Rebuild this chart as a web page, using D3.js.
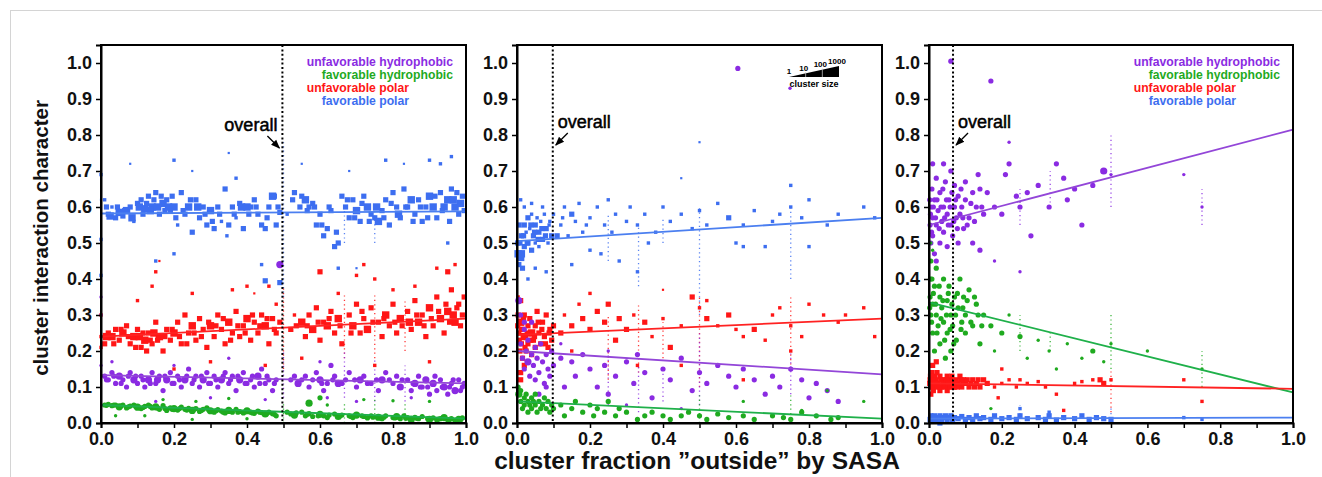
<!DOCTYPE html>
<html><head><meta charset="utf-8">
<script src="https://cdn.jsdelivr.net/npm/d3@7"></script>
<style>body{margin:0;background:#fff}svg{display:block;font-family:"Liberation Sans",Arial,Helvetica,sans-serif}</style>
</head><body>
<svg id="c" width="1322" height="477"></svg>
<script>
// ---------------- DATA ----------------
const categories = ["unfavorable hydrophobic","favorable hydrophobic","unfavorable polar","favorable polar"];
const yTicks = [0,0.1,0.2,0.3,0.4,0.5,0.6,0.7,0.8,0.9,1.0];
const yTickLabels = ["0.0","0.1","0.2","0.3","0.4","0.5","0.6","0.7","0.8","0.9","1.0"];
const xTicks = [0,0.1,0.2,0.3,0.4,0.5,0.6,0.7,0.8,0.9,1.0];
const xTickLabels = ["0.0","","0.2","","0.4","","0.6","","0.8","","1.0"];
const yTitle = "cluster interaction character";
const xTitle = "cluster fraction \u201doutside\u201d by SASA";
const overallLabel = "overall";
const overallFraction = [0.497, 0.098, 0.066];
const sizeLegendLabels = ["1","10","100","1000"];
const sizeLegendTitle = "cluster size";

// points: [fraction outside, interaction character, log10 cluster size class]
// panel 1
const p1FavPolar = [[0.01,0.62,2],[0.02,0.58,3],[0.03,0.6,2],[0.04,0.57,3],[0.05,0.585,4],[0.06,0.575,3],[0.07,0.59,4],[0.08,0.6,3],[0.09,0.56,2],[0.1,0.61,3],[0.11,0.62,3],[0.12,0.595,4],[0.13,0.63,3],[0.14,0.6,4],[0.15,0.64,3],[0.16,0.58,3],[0.17,0.61,4],[0.18,0.62,3],[0.19,0.59,3],[0.2,0.6,4],[0.21,0.55,2],[0.22,0.64,3],[0.23,0.58,3],[0.24,0.6,4],[0.25,0.53,3],[0.26,0.62,3],[0.27,0.57,3],[0.28,0.6,3],[0.29,0.55,3],[0.3,0.59,4],[0.31,0.54,3],[0.32,0.6,3],[0.33,0.56,2],[0.34,0.65,3],[0.35,0.55,3],[0.36,0.6,3],[0.37,0.57,2],[0.38,0.61,3],[0.39,0.54,3],[0.4,0.6,4],[0.41,0.6,3],[0.42,0.62,3],[0.43,0.58,3],[0.44,0.55,3],[0.45,0.54,3],[0.46,0.6,3],[0.47,0.63,4],[0.48,0.55,3],[0.49,0.585,3],[0.51,0.58,2],[0.53,0.64,3],[0.55,0.63,3],[0.56,0.62,4],[0.57,0.6,3],[0.58,0.61,3],[0.59,0.55,3],[0.6,0.58,3],[0.61,0.52,3],[0.62,0.54,3],[0.63,0.59,3],[0.64,0.49,3],[0.65,0.5,3],[0.66,0.63,3],[0.67,0.6,3],[0.68,0.57,3],[0.69,0.62,3],[0.7,0.59,4],[0.71,0.56,3],[0.72,0.63,3],[0.73,0.6,4],[0.74,0.58,3],[0.75,0.57,3],[0.76,0.56,4],[0.77,0.59,3],[0.78,0.62,3],[0.79,0.55,3],[0.8,0.64,3],[0.81,0.6,3],[0.82,0.57,3],[0.83,0.65,3],[0.84,0.6,3],[0.85,0.62,4],[0.86,0.58,3],[0.87,0.62,3],[0.88,0.56,3],[0.89,0.6,3],[0.9,0.63,4],[0.91,0.6,4],[0.92,0.57,3],[0.93,0.64,3],[0.94,0.6,4],[0.95,0.62,4],[0.96,0.65,3],[0.97,0.6,4],[0.98,0.58,3],[0.99,0.63,3],[0.08,0.72,1],[0.2,0.73,2],[0.25,0.7,1],[0.35,0.75,1],[0.37,0.68,2],[0.55,0.72,1],[0.68,0.7,1],[0.78,0.73,2],[0.83,0.72,1],[0.9,0.73,2],[0.93,0.72,2],[0.96,0.74,2],[0.15,0.45,2],[0.2,0.47,2],[0.44,0.44,2],[0.45,0.395,3],[0.49,0.39,3],[0.65,0.43,2],[0.7,0.43,1],[0.95,0.5,2],[0.0,0.69,2],[0.0,0.51,2],[0.0,0.41,2],[0.0,0.62,1],
 [0.015,0.6,3],[0.025,0.575,4],[0.045,0.6,3],[0.065,0.59,3],[0.085,0.57,4],[0.105,0.6,4],[0.115,0.58,3],[0.125,0.61,3],[0.135,0.59,4],[0.145,0.62,3],[0.155,0.6,4],[0.165,0.63,3],[0.175,0.59,3],[0.185,0.6,4],[0.195,0.63,3],[0.205,0.57,3],[0.225,0.59,3],[0.245,0.62,3],[0.265,0.6,4],[0.285,0.58,3],[0.305,0.56,3],[0.325,0.58,3],[0.345,0.52,2],[0.365,0.58,3],[0.385,0.6,4],[0.405,0.58,3],[0.425,0.6,3],[0.455,0.57,3],[0.475,0.63,3],[0.485,0.6,3],[0.525,0.62,3],[0.545,0.6,3],[0.565,0.59,3],[0.585,0.6,3],[0.605,0.55,3],[0.625,0.6,3],[0.645,0.53,3],[0.675,0.62,3],[0.695,0.57,3],[0.715,0.61,3],[0.735,0.56,3],[0.755,0.6,4],[0.775,0.57,3],[0.795,0.61,3],[0.815,0.58,4],[0.835,0.6,3],[0.855,0.56,3],[0.875,0.6,3],[0.895,0.57,3],[0.915,0.63,3],[0.935,0.59,3],[0.955,0.56,3],[0.965,0.62,4],[0.975,0.64,3],[0.985,0.61,4],[0.995,0.59,3]];
const p1UnfavPolar = [[0.01,0.22,3],[0.02,0.25,3],[0.03,0.24,4],[0.04,0.26,3],[0.05,0.23,3],[0.06,0.25,4],[0.07,0.27,3],[0.08,0.22,3],[0.09,0.24,4],[0.1,0.26,3],[0.11,0.21,3],[0.12,0.23,4],[0.13,0.25,3],[0.14,0.22,3],[0.15,0.28,3],[0.16,0.24,4],[0.17,0.2,3],[0.18,0.26,3],[0.19,0.23,3],[0.2,0.25,4],[0.21,0.28,3],[0.22,0.22,3],[0.23,0.3,3],[0.24,0.25,3],[0.25,0.27,4],[0.26,0.23,3],[0.27,0.29,3],[0.28,0.26,3],[0.29,0.21,3],[0.3,0.27,4],[0.31,0.24,3],[0.32,0.3,3],[0.33,0.26,3],[0.34,0.22,3],[0.35,0.28,4],[0.36,0.25,3],[0.37,0.31,3],[0.38,0.24,3],[0.39,0.27,3],[0.4,0.29,4],[0.41,0.23,3],[0.42,0.28,3],[0.43,0.25,3],[0.44,0.3,3],[0.45,0.27,4],[0.46,0.22,3],[0.47,0.29,3],[0.48,0.25,3],[0.49,0.28,3],[0.52,0.26,3],[0.53,0.3,2],[0.55,0.28,4],[0.56,0.24,3],[0.57,0.3,3],[0.58,0.26,4],[0.59,0.32,3],[0.6,0.23,3],[0.61,0.28,3],[0.62,0.27,4],[0.63,0.31,3],[0.64,0.25,3],[0.65,0.29,4],[0.66,0.22,3],[0.68,0.3,3],[0.69,0.27,4],[0.7,0.33,3],[0.71,0.25,3],[0.72,0.29,3],[0.73,0.26,4],[0.74,0.32,3],[0.76,0.28,3],[0.77,0.24,3],[0.78,0.3,4],[0.79,0.27,3],[0.8,0.33,3],[0.81,0.25,3],[0.82,0.29,4],[0.84,0.31,3],[0.85,0.26,3],[0.86,0.34,3],[0.87,0.28,4],[0.88,0.3,3],[0.89,0.24,3],[0.9,0.32,4],[0.91,0.27,3],[0.92,0.35,3],[0.93,0.29,4],[0.94,0.25,3],[0.95,0.31,4],[0.96,0.37,3],[0.97,0.28,4],[0.98,0.33,3],[0.99,0.3,3],[0.1,0.34,2],[0.14,0.38,2],[0.15,0.42,2],[0.16,0.45,1],[0.25,0.36,2],[0.36,0.37,2],[0.4,0.38,2],[0.42,0.36,1],[0.46,0.38,2],[0.48,0.33,2],[0.6,0.42,3],[0.65,0.36,2],[0.7,0.41,2],[0.72,0.44,2],[0.75,0.4,2],[0.8,0.37,2],[0.86,0.38,2],[0.92,0.43,2],[0.95,0.42,3],[0.97,0.44,2],[0.2,0.15,2],[0.3,0.17,2],[0.45,0.16,2],[0.55,0.18,2],[0.75,0.16,2],[0.9,0.17,2],[0.0,0.3,2],[0.0,0.21,2],[0.0,0.24,2],
 [0.015,0.24,4],[0.035,0.22,3],[0.055,0.26,3],[0.075,0.24,3],[0.095,0.21,3],[0.105,0.24,4],[0.115,0.25,3],[0.125,0.2,3],[0.135,0.23,3],[0.145,0.25,4],[0.155,0.23,3],[0.175,0.24,3],[0.195,0.26,3],[0.215,0.24,3],[0.235,0.22,3],[0.255,0.25,3],[0.275,0.24,3],[0.295,0.28,3],[0.315,0.27,3],[0.335,0.29,3],[0.355,0.23,3],[0.375,0.27,3],[0.395,0.25,3],[0.415,0.3,3],[0.435,0.27,3],[0.455,0.29,3],[0.475,0.26,3],[0.535,0.27,3],[0.565,0.27,3],[0.595,0.28,3],[0.625,0.29,3],[0.655,0.27,3],[0.685,0.25,3],[0.715,0.31,3],[0.745,0.28,3],[0.775,0.29,3],[0.805,0.28,3],[0.825,0.27,3],[0.845,0.28,4],[0.865,0.3,3],[0.885,0.27,3],[0.905,0.29,3],[0.925,0.31,3],[0.945,0.33,3],[0.955,0.28,3],[0.965,0.3,4],[0.975,0.32,3],[0.985,0.27,3],[0.995,0.35,3]];
const p1UnfavHydrophobic = [[0.01,0.13,3],[0.02,0.12,3],[0.03,0.14,3],[0.04,0.11,3],[0.05,0.13,4],[0.06,0.12,3],[0.07,0.1,3],[0.08,0.14,3],[0.09,0.12,4],[0.1,0.11,3],[0.11,0.13,3],[0.12,0.1,3],[0.13,0.12,4],[0.14,0.14,3],[0.15,0.11,3],[0.16,0.13,3],[0.17,0.09,3],[0.18,0.12,4],[0.19,0.14,3],[0.2,0.11,3],[0.21,0.13,3],[0.22,0.1,3],[0.23,0.12,4],[0.24,0.15,3],[0.25,0.11,3],[0.26,0.13,3],[0.27,0.1,3],[0.28,0.12,4],[0.29,0.14,3],[0.3,0.11,3],[0.31,0.13,3],[0.32,0.1,3],[0.33,0.12,4],[0.34,0.14,3],[0.35,0.11,3],[0.36,0.13,3],[0.37,0.09,3],[0.38,0.12,4],[0.39,0.14,3],[0.4,0.11,3],[0.41,0.12,3],[0.42,0.1,3],[0.43,0.13,4],[0.44,0.15,3],[0.45,0.11,3],[0.46,0.12,3],[0.47,0.09,3],[0.48,0.12,3],[0.52,0.12,3],[0.54,0.11,4],[0.56,0.13,3],[0.57,0.1,3],[0.59,0.14,3],[0.6,0.12,4],[0.61,0.09,3],[0.62,0.11,3],[0.63,0.16,3],[0.64,0.13,3],[0.65,0.11,4],[0.67,0.12,3],[0.68,0.14,3],[0.7,0.1,3],[0.71,0.12,4],[0.72,0.13,3],[0.74,0.11,3],[0.76,0.09,3],[0.77,0.12,4],[0.78,0.14,3],[0.8,0.11,3],[0.81,0.13,3],[0.82,0.1,4],[0.84,0.12,3],[0.85,0.09,3],[0.86,0.11,4],[0.87,0.13,3],[0.88,0.1,3],[0.89,0.12,4],[0.9,0.08,3],[0.91,0.11,4],[0.92,0.09,3],[0.93,0.12,3],[0.94,0.1,4],[0.95,0.08,3],[0.96,0.11,3],[0.97,0.09,4],[0.98,0.12,3],[0.99,0.1,3],[0.49,0.44,4],[0.03,0.17,2],[0.2,0.16,2],[0.35,0.18,2],[0.6,0.17,2],[0.62,0.07,2],[0.7,0.06,2],[0.85,0.07,2],[0.0,0.35,2],[0.0,0.3,2],[0.0,0.16,2],[0.15,0.06,2],[0.3,0.07,2],[0.45,0.065,2],
 [0.015,0.12,3],[0.035,0.13,3],[0.055,0.11,3],[0.075,0.13,3],[0.095,0.13,3],[0.115,0.12,3],[0.135,0.11,3],[0.155,0.12,4],[0.175,0.13,3],[0.195,0.11,3],[0.215,0.12,3],[0.235,0.13,3],[0.255,0.12,3],[0.275,0.13,3],[0.295,0.11,3],[0.315,0.12,3],[0.335,0.13,3],[0.355,0.12,3],[0.375,0.13,3],[0.395,0.11,3],[0.415,0.13,3],[0.435,0.11,3],[0.455,0.13,3],[0.475,0.11,3],[0.53,0.13,3],[0.55,0.12,3],[0.58,0.12,3],[0.605,0.11,3],[0.635,0.12,3],[0.66,0.11,3],[0.695,0.12,3],[0.73,0.11,3],[0.755,0.12,3],[0.79,0.12,3],[0.825,0.12,3],[0.855,0.11,3],[0.875,0.1,3],[0.895,0.1,3],[0.915,0.13,3],[0.935,0.1,3],[0.955,0.1,3],[0.965,0.12,3],[0.985,0.09,3],[0.995,0.11,3]];
const p1FavHydrophobic = [[0.01,0.05,3],[0.02,0.052,3],[0.03,0.048,3],[0.04,0.05,3],[0.05,0.045,4],[0.06,0.05,3],[0.07,0.042,3],[0.08,0.047,3],[0.09,0.05,3],[0.1,0.044,4],[0.11,0.04,3],[0.12,0.046,3],[0.13,0.05,3],[0.14,0.042,3],[0.15,0.045,4],[0.16,0.038,3],[0.17,0.048,3],[0.18,0.035,3],[0.19,0.042,3],[0.2,0.04,4],[0.21,0.036,3],[0.22,0.044,3],[0.23,0.038,3],[0.24,0.041,3],[0.25,0.035,4],[0.26,0.04,3],[0.27,0.032,3],[0.28,0.038,3],[0.29,0.042,3],[0.3,0.034,4],[0.31,0.03,3],[0.32,0.037,3],[0.33,0.033,3],[0.34,0.028,3],[0.35,0.035,4],[0.36,0.03,3],[0.37,0.038,3],[0.38,0.032,3],[0.39,0.028,3],[0.4,0.034,4],[0.41,0.03,3],[0.42,0.027,3],[0.43,0.033,3],[0.44,0.029,3],[0.45,0.025,4],[0.46,0.03,3],[0.47,0.026,3],[0.48,0.02,3],[0.51,0.03,3],[0.52,0.025,3],[0.53,0.022,4],[0.55,0.03,3],[0.56,0.02,3],[0.57,0.026,3],[0.58,0.018,3],[0.6,0.024,4],[0.61,0.02,3],[0.62,0.015,3],[0.64,0.025,3],[0.65,0.018,4],[0.66,0.022,3],[0.68,0.02,3],[0.69,0.015,3],[0.7,0.022,4],[0.72,0.018,3],[0.73,0.014,3],[0.74,0.02,3],[0.76,0.016,4],[0.77,0.012,3],[0.78,0.02,3],[0.8,0.015,3],[0.81,0.018,4],[0.82,0.012,3],[0.83,0.02,3],[0.84,0.015,3],[0.85,0.01,4],[0.86,0.016,3],[0.87,0.012,3],[0.88,0.018,3],[0.9,0.01,4],[0.91,0.014,3],[0.92,0.008,3],[0.93,0.012,3],[0.94,0.015,4],[0.95,0.008,3],[0.96,0.012,3],[0.97,0.006,3],[0.98,0.01,4],[0.99,0.014,3],[0.57,0.055,4],[0.6,0.07,3],[0.17,0.065,2],[0.26,0.06,2],[0.35,0.068,2],[0.62,0.05,2],[0.72,0.065,2],[0.8,0.062,2],[0.9,0.06,2],[0.12,0.02,2],[0.25,0.01,2],[0.4,0.012,2],[0.04,0.02,2],
 [0.015,0.049,3],[0.035,0.05,3],[0.055,0.047,3],[0.075,0.045,3],[0.095,0.046,3],[0.115,0.043,3],[0.135,0.046,3],[0.155,0.042,3],[0.175,0.04,3],[0.195,0.038,3],[0.215,0.04,3],[0.235,0.036,3],[0.255,0.038,3],[0.275,0.035,3],[0.295,0.036,3],[0.315,0.034,3],[0.335,0.03,3],[0.355,0.032,3],[0.375,0.03,3],[0.395,0.031,3],[0.415,0.028,3],[0.435,0.03,3],[0.455,0.027,3],[0.475,0.024,3],[0.535,0.028,3],[0.565,0.024,3],[0.595,0.02,3],[0.625,0.022,3],[0.655,0.02,3],[0.685,0.018,3],[0.715,0.02,3],[0.745,0.016,3],[0.775,0.016,3],[0.805,0.014,3],[0.835,0.013,3],[0.865,0.013,3],[0.895,0.012,3],[0.925,0.011,3],[0.955,0.01,3],[0.985,0.008,3]];
// panel 2
const p2FavPolar = [[0.003,0.47,4],[0.005,0.44,3],[0.008,0.5,3],[0.01,0.46,4],[0.012,0.52,3],[0.015,0.43,3],[0.02,0.55,3],[0.02,0.49,3],[0.025,0.53,2],[0.03,0.57,3],[0.03,0.5,3],[0.035,0.54,2],[0.04,0.48,3],[0.04,0.58,2],[0.045,0.52,3],[0.05,0.55,3],[0.05,0.5,2],[0.055,0.57,2],[0.06,0.53,3],[0.06,0.49,2],[0.065,0.56,2],[0.07,0.51,3],[0.075,0.58,2],[0.08,0.54,3],[0.085,0.5,2],[0.09,0.56,2],[0.095,0.52,3],[0.1,0.58,2],[0.01,0.62,2],[0.02,0.6,2],[0.04,0.61,2],[0.07,0.6,2],[0.03,0.4,2],[0.05,0.43,2],[0.08,0.42,2],[0.12,0.55,2],[0.13,0.6,2],[0.14,0.52,2],[0.15,0.58,3],[0.16,0.56,2],[0.17,0.61,2],[0.18,0.53,2],[0.2,0.57,2],[0.22,0.6,2],[0.23,0.47,2],[0.24,0.55,2],[0.25,0.62,2],[0.27,0.58,2],[0.28,0.45,2],[0.3,0.56,2],[0.31,0.6,2],[0.33,0.55,2],[0.35,0.58,2],[0.36,0.5,2],[0.38,0.53,2],[0.4,0.6,2],[0.42,0.56,2],[0.45,0.58,2],[0.48,0.54,2],[0.5,0.59,2],[0.52,0.55,2],[0.55,0.61,2],[0.58,0.57,3],[0.6,0.5,2],[0.62,0.55,2],[0.65,0.59,2],[0.7,0.56,2],[0.72,0.58,2],[0.75,0.6,2],[0.78,0.57,2],[0.8,0.62,2],[0.85,0.55,2],[0.88,0.58,2],[0.95,0.6,2],[0.98,0.57,2],[0.15,0.44,2],[0.2,0.48,2],[0.33,0.42,2],[0.45,0.68,1],[0.5,0.78,1],[0.62,0.49,2],[0.68,0.49,2],[0.75,0.66,2],[0.8,0.49,2],
 [0.002,0.5,3],[0.006,0.55,3],[0.012,0.47,4],[0.018,0.52,3],[0.028,0.5,3],[0.038,0.55,3],[0.048,0.53,3],[0.058,0.51,3],[0.068,0.54,3],[0.078,0.52,3],[0.088,0.55,2],[0.11,0.52,3],[0.125,0.57,2],[0.19,0.55,2],[0.26,0.53,2]];
const p2UnfavPolar = [[0.003,0.3,3],[0.005,0.25,3],[0.008,0.2,3],[0.01,0.34,3],[0.01,0.28,4],[0.012,0.22,3],[0.015,0.18,3],[0.015,0.26,3],[0.02,0.3,3],[0.02,0.24,4],[0.025,0.2,3],[0.03,0.27,3],[0.03,0.22,3],[0.035,0.29,3],[0.04,0.25,4],[0.04,0.19,3],[0.045,0.23,3],[0.05,0.27,3],[0.05,0.21,3],[0.055,0.31,3],[0.06,0.25,3],[0.065,0.22,3],[0.07,0.28,3],[0.075,0.24,3],[0.08,0.3,3],[0.085,0.21,3],[0.09,0.26,3],[0.095,0.23,3],[0.1,0.27,3],[0.01,0.12,3],[0.01,0.14,3],[0.02,0.16,3],[0.003,0.35,2],[0.12,0.25,3],[0.13,0.3,2],[0.15,0.27,3],[0.17,0.33,2],[0.18,0.29,3],[0.2,0.26,3],[0.22,0.31,3],[0.24,0.28,3],[0.25,0.33,3],[0.27,0.23,3],[0.28,0.29,3],[0.3,0.26,3],[0.32,0.3,2],[0.35,0.28,3],[0.37,0.24,2],[0.4,0.29,2],[0.42,0.21,3],[0.45,0.27,2],[0.48,0.35,3],[0.5,0.32,2],[0.52,0.29,3],[0.55,0.27,2],[0.58,0.3,3],[0.6,0.26,2],[0.62,0.24,2],[0.65,0.26,3],[0.68,0.23,2],[0.7,0.3,2],[0.72,0.32,2],[0.75,0.27,2],[0.78,0.24,2],[0.8,0.33,2],[0.84,0.3,2],[0.88,0.28,2],[0.95,0.32,2],[0.98,0.24,2],[0.2,0.36,2],[0.4,0.37,1],[0.52,0.34,2],[0.15,0.2,2],[0.33,0.16,2],[0.45,0.16,2],[0.62,0.12,2],[0.75,0.2,2],[0.9,0.3,2],
 [0.002,0.27,3],[0.006,0.23,3],[0.012,0.26,3],[0.018,0.29,3],[0.022,0.21,3],[0.028,0.25,3],[0.038,0.23,3],[0.048,0.24,3],[0.058,0.28,3],[0.068,0.26,3],[0.078,0.22,3],[0.088,0.25,3]];
const p2UnfavHydrophobic = [[0.005,0.34,4],[0.01,0.3,3],[0.01,0.22,3],[0.015,0.18,3],[0.02,0.26,3],[0.02,0.15,3],[0.025,0.2,3],[0.03,0.17,4],[0.03,0.23,3],[0.035,0.13,3],[0.04,0.19,3],[0.045,0.16,3],[0.05,0.21,3],[0.05,0.12,3],[0.055,0.18,3],[0.06,0.14,3],[0.065,0.22,3],[0.07,0.17,3],[0.075,0.11,3],[0.08,0.19,3],[0.085,0.15,3],[0.09,0.13,3],[0.095,0.2,3],[0.1,0.16,3],[0.02,0.28,3],[0.04,0.28,3],[0.06,0.08,3],[0.08,0.1,3],[0.12,0.18,3],[0.13,0.1,3],[0.15,0.17,3],[0.16,0.13,3],[0.18,0.19,3],[0.2,0.15,3],[0.22,0.1,3],[0.24,0.16,3],[0.25,0.08,3],[0.27,0.13,3],[0.3,0.17,3],[0.32,0.11,3],[0.33,0.19,3],[0.35,0.14,3],[0.37,0.07,3],[0.4,0.15,3],[0.42,0.12,3],[0.45,0.18,3],[0.48,0.09,3],[0.5,0.14,3],[0.52,0.11,3],[0.55,0.16,3],[0.58,0.13,3],[0.6,0.1,3],[0.62,0.15,3],[0.65,0.12,3],[0.68,0.08,3],[0.7,0.13,3],[0.72,0.1,3],[0.75,0.15,3],[0.78,0.12,3],[0.8,0.07,3],[0.82,0.11,3],[0.85,0.09,3],[0.88,0.06,3],[0.605,0.985,3],[0.748,0.93,2],[0.3,0.05,2],[0.45,0.04,2],[0.12,0.22,2],[0.25,0.2,2]];
const p2FavHydrophobic = [[0.003,0.1,3],[0.005,0.08,4],[0.01,0.06,3],[0.01,0.09,3],[0.015,0.04,3],[0.02,0.07,3],[0.02,0.05,3],[0.025,0.08,3],[0.03,0.06,3],[0.03,0.03,3],[0.035,0.05,3],[0.04,0.07,3],[0.04,0.04,3],[0.045,0.06,3],[0.05,0.05,3],[0.05,0.08,3],[0.055,0.03,3],[0.06,0.06,3],[0.065,0.04,3],[0.07,0.05,3],[0.075,0.07,3],[0.08,0.04,3],[0.085,0.06,3],[0.09,0.03,3],[0.095,0.05,3],[0.1,0.04,3],[0.12,0.05,3],[0.13,0.02,3],[0.15,0.04,3],[0.16,0.06,3],[0.18,0.03,3],[0.2,0.05,3],[0.21,0.02,3],[0.22,0.04,3],[0.24,0.03,3],[0.25,0.06,3],[0.27,0.02,3],[0.28,0.04,3],[0.3,0.03,3],[0.33,0.01,3],[0.35,0.02,3],[0.37,0.03,3],[0.4,0.02,3],[0.42,0.01,3],[0.45,0.02,3],[0.47,0.03,3],[0.5,0.02,3],[0.52,0.01,3],[0.55,0.025,3],[0.58,0.015,3],[0.62,0.02,3],[0.65,0.01,3],[0.7,0.02,3],[0.73,0.015,3],[0.75,0.01,3],[0.78,0.03,3],[0.82,0.02,3],[0.86,0.01,3],[0.88,0.015,3],[0.62,0.06,2],[0.78,0.035,2],[0.95,0.06,2],[0.85,0.09,2]];
// panel 3
const p3UnfavHydrophobic = [[0.003,0.55,3],[0.005,0.6,3],[0.005,0.5,3],[0.008,0.65,3],[0.01,0.57,3],[0.01,0.52,3],[0.015,0.62,3],[0.015,0.47,3],[0.02,0.55,3],[0.02,0.68,3],[0.025,0.59,3],[0.03,0.5,3],[0.03,0.64,3],[0.035,0.56,3],[0.04,0.6,3],[0.04,0.53,3],[0.045,0.67,3],[0.05,0.58,3],[0.05,0.49,3],[0.055,0.62,3],[0.06,0.55,3],[0.06,0.7,3],[0.065,0.52,3],[0.07,0.6,3],[0.07,0.66,3],[0.075,0.57,3],[0.08,0.63,3],[0.08,0.5,3],[0.085,0.58,3],[0.09,0.6,3],[0.095,0.54,3],[0.1,0.62,3],[0.1,0.67,3],[0.11,0.57,3],[0.12,0.64,3],[0.12,0.5,3],[0.13,0.6,3],[0.14,0.65,3],[0.14,0.48,3],[0.15,0.58,3],[0.04,0.72,3],[0.02,0.45,3],[0.01,0.72,3],[0.16,0.64,3],[0.17,0.95,3],[0.06,1.005,3],[0.18,0.6,3],[0.2,0.58,3],[0.21,0.69,3],[0.22,0.72,3],[0.24,0.63,3],[0.25,0.6,3],[0.27,0.64,3],[0.28,0.52,3],[0.3,0.66,3],[0.33,0.6,3],[0.35,0.72,3],[0.37,0.68,3],[0.38,0.62,3],[0.4,0.65,3],[0.42,0.55,3],[0.45,0.66,3],[0.48,0.7,4],[0.5,0.69,2],[0.22,0.78,2],[0.7,0.69,2],[0.75,0.6,2],[0.25,0.42,2],[0.18,0.45,2],
 [0.002,0.62,3],[0.004,0.58,3],[0.007,0.53,3],[0.012,0.6,3],[0.018,0.57,3],[0.022,0.62,3],[0.028,0.54,3],[0.033,0.6,3],[0.038,0.65,3],[0.043,0.57,3],[0.048,0.62,3],[0.053,0.55,3],[0.058,0.6,3],[0.063,0.64,3],[0.068,0.56,3],[0.073,0.62,3],[0.078,0.54,3],[0.088,0.65,3],[0.093,0.57,3],[0.105,0.55,3],[0.115,0.61,3],[0.125,0.56,3],[0.135,0.69,3],[0.145,0.6,3]];
const p3FavHydrophobic = [[0.003,0.35,3],[0.005,0.45,3],[0.005,0.3,3],[0.008,0.4,3],[0.01,0.25,3],[0.01,0.33,3],[0.015,0.38,3],[0.015,0.2,3],[0.02,0.3,3],[0.02,0.43,3],[0.025,0.27,3],[0.03,0.35,3],[0.03,0.22,3],[0.035,0.32,3],[0.04,0.4,3],[0.04,0.28,3],[0.045,0.18,3],[0.05,0.34,3],[0.05,0.25,3],[0.055,0.38,3],[0.06,0.3,3],[0.06,0.2,3],[0.065,0.27,3],[0.07,0.35,3],[0.075,0.23,3],[0.08,0.32,3],[0.085,0.4,3],[0.09,0.28,3],[0.095,0.35,3],[0.1,0.25,3],[0.1,0.3,3],[0.11,0.37,3],[0.12,0.27,3],[0.13,0.33,3],[0.14,0.22,3],[0.15,0.3,3],[0.005,0.5,2],[0.01,0.48,2],[0.17,0.27,3],[0.18,0.2,2],[0.2,0.25,3],[0.22,0.3,2],[0.25,0.24,3],[0.27,0.18,2],[0.3,0.23,2],[0.33,0.2,2],[0.35,0.15,2],[0.38,0.22,2],[0.42,0.18,2],[0.45,0.2,3],[0.48,0.17,2],[0.5,0.22,2],[0.6,0.2,2],[0.75,0.15,2],[0.17,0.04,2],
 [0.002,0.32,3],[0.004,0.4,3],[0.007,0.28,3],[0.012,0.36,3],[0.018,0.33,3],[0.022,0.25,3],[0.028,0.38,3],[0.033,0.29,3],[0.038,0.34,3],[0.043,0.23,3],[0.048,0.3,3],[0.053,0.36,3],[0.058,0.26,3],[0.063,0.33,3],[0.068,0.22,3],[0.073,0.3,3],[0.078,0.36,3],[0.088,0.26,3],[0.093,0.32,3],[0.105,0.34,3],[0.115,0.28,3],[0.125,0.35,3],[0.135,0.3,3],[0.145,0.27,3]];
const p3UnfavPolar = [[0.003,0.12,3],[0.005,0.1,3],[0.008,0.14,3],[0.01,0.11,3],[0.012,0.09,3],[0.015,0.13,3],[0.02,0.1,3],[0.02,0.12,3],[0.025,0.11,3],[0.03,0.09,3],[0.03,0.13,3],[0.035,0.1,3],[0.04,0.12,3],[0.045,0.11,3],[0.05,0.09,3],[0.05,0.13,3],[0.055,0.1,3],[0.06,0.12,3],[0.065,0.11,3],[0.07,0.1,3],[0.075,0.12,3],[0.08,0.11,3],[0.085,0.13,3],[0.09,0.1,3],[0.095,0.12,3],[0.1,0.11,3],[0.11,0.1,3],[0.12,0.12,3],[0.13,0.11,3],[0.14,0.1,3],[0.15,0.12,3],[0.16,0.11,3],[0.01,0.16,3],[0.02,0.17,3],[0.005,0.08,3],[0.18,0.1,2],[0.19,0.07,2],[0.2,0.11,2],[0.22,0.12,2],[0.24,0.1,2],[0.25,0.12,2],[0.27,0.11,2],[0.3,0.115,2],[0.32,0.1,2],[0.35,0.08,2],[0.37,0.035,2],[0.4,0.11,2],[0.42,0.115,2],[0.45,0.12,2],[0.47,0.12,3],[0.48,0.11,3],[0.5,0.12,2],[0.7,0.12,2],[0.75,0.06,2],[0.2,0.15,2],
 [0.002,0.11,3],[0.004,0.13,3],[0.007,0.1,3],[0.012,0.12,3],[0.018,0.11,3],[0.022,0.14,3],[0.028,0.1,3],[0.033,0.12,3],[0.038,0.11,3],[0.043,0.1,3],[0.048,0.12,3],[0.053,0.11,3],[0.058,0.1,3],[0.063,0.13,3],[0.068,0.1,3],[0.073,0.11,3],[0.078,0.1,3],[0.088,0.12,3],[0.093,0.11,3],[0.105,0.12,3],[0.115,0.11,3],[0.125,0.1,3],[0.135,0.12,3]];
const p3FavPolar = [[0.003,0.01,3],[0.005,0.02,3],[0.008,0.015,3],[0.01,0.005,3],[0.015,0.02,3],[0.02,0.01,3],[0.025,0.015,3],[0.03,0.02,3],[0.035,0.01,3],[0.04,0.015,3],[0.045,0.02,3],[0.05,0.01,3],[0.055,0.015,3],[0.06,0.02,3],[0.065,0.01,3],[0.07,0.015,3],[0.08,0.012,3],[0.09,0.018,3],[0.1,0.01,3],[0.11,0.015,3],[0.12,0.01,3],[0.13,0.02,3],[0.14,0.012,3],[0.15,0.015,3],[0.17,0.01,3],[0.18,0.02,3],[0.2,0.012,3],[0.22,0.015,3],[0.24,0.01,3],[0.25,0.02,3],[0.27,0.012,3],[0.3,0.015,3],[0.32,0.01,3],[0.33,0.02,3],[0.35,0.008,3],[0.37,0.015,3],[0.4,0.012,3],[0.42,0.02,3],[0.44,0.01,3],[0.46,0.015,3],[0.48,0.012,3],[0.5,0.01,3],[0.7,0.015,2],[0.75,0.01,2],[0.25,0.04,2],[0.33,0.03,2],[0.03,0.0,3]];

// vertical runs of tiny points at simple fractions: [x, yFrom, yTo, category index]
const p1Streaks = [[0,0.4,0.77,3],[0,0.2,0.3,2],[0,0.1,0.35,0],[0,0,0.06,1],[0.5,0.35,0.78,3],[0.5,0.15,0.38,2],[0.5,0.07,0.2,0],[0.5,0,0.06,1],[0.667,0.5,0.6,3],[0.667,0.18,0.36,2],[0.667,0.07,0.2,0],[0.667,0,0.06,1],[0.75,0.5,0.6,3],[0.75,0.18,0.36,2],[0.75,0.06,0.18,0],[0.75,0,0.07,1],[0.833,0.2,0.34,2],[0.833,0.06,0.16,0],[0.833,0,0.06,1],[1,0.4,0.7,3],[1,0.2,0.42,2],[1,0.05,0.16,0],[1,0,0.05,1]];
const p2Streaks = [[0,0.38,0.62,3],[0,0.1,0.36,2],[0,0.1,0.34,0],[0,0,0.1,1],[0.25,0.45,0.58,3],[0.25,0.12,0.3,2],[0.25,0.05,0.2,0],[0.333,0.38,0.55,3],[0.333,0.14,0.33,2],[0.333,0.03,0.16,0],[0.4,0.5,0.57,3],[0.4,0.18,0.28,2],[0.4,0.06,0.14,0],[0.5,0.3,0.6,3],[0.5,0.1,0.35,2],[0.5,0.05,0.25,0],[0.5,0,0.08,1],[0.75,0.4,0.6,3],[0.75,0.15,0.35,2],[0.75,0.08,0.2,0],[0.75,0,0.08,1],[1,0.45,0.6,3],[1,0.2,0.3,2]];
const p3Streaks = [[0,0.4,0.8,0],[0,0.1,0.5,1],[0,0.05,0.2,2],[0,0,0.05,3],[0.25,0.55,0.65,0],[0.25,0.2,0.3,1],[0.25,0,0.05,3],[0.333,0.6,0.7,0],[0.333,0.2,0.26,1],[0.5,0.6,0.8,0],[0.5,0.15,0.3,1],[0.5,0.03,0.15,2],[0.5,0,0.04,3],[0.75,0.55,0.65,0],[0.75,0.1,0.2,1],[1,0.08,0.12,2]];

// linear fits: [value at 0, value at 1] per category
const p1Fits = [[0.133,0.11],[0.05,0.012],[0.24,0.29],[0.582,0.588]];
const p2Fits = [[0.20,0.135],[0.06,0.012],[0.245,0.29],[0.505,0.57]];
const p3Fits = [[0.55,0.815],[0.335,0.085],[0.11,0.095],[0.012,0.015]];

// ---------------- STYLE / LAYOUT ----------------
const colors = ["#8a2be2","#1faa1f","#ff1616","#3d6ef0"];
const fitColors = ["#9346d8","#1fb04a","#ff2222","#4b7ff0"];
const shapes = ["circle","circle","square","square"];
const panelsPx = [[101,466],[517,882],[929,1293]];
const panels = [
  {pts:[p1UnfavHydrophobic,p1FavHydrophobic,p1UnfavPolar,p1FavPolar], streaks:p1Streaks, fits:p1Fits, legend:true, overallSide:-1},
  {pts:[p2UnfavHydrophobic,p2FavHydrophobic,p2UnfavPolar,p2FavPolar], streaks:p2Streaks, fits:p2Fits, sizeLegend:true, overallSide:1},
  {pts:[p3UnfavHydrophobic,p3FavHydrophobic,p3UnfavPolar,p3FavPolar], streaks:p3Streaks, fits:p3Fits, legend:true, overallSide:1}
];
const yTop = 45, yBot = 423;
const y = d3.scaleLinear().domain([0,1.05]).range([yBot,yTop]);
const sqSide = d3.scaleOrdinal().domain([1,2,3,4]).range([2.2,3.4,5.2,7.4]);
const cR = d3.scaleOrdinal().domain([1,2,3,4]).range([1.1,1.7,2.6,3.6]);

const svg = d3.select("#c");
svg.append("line").attr("x1",10).attr("y1",10.5).attr("x2",1322).attr("y2",10.5).attr("stroke","#d4d4d4");
svg.append("line").attr("x1",10.5).attr("y1",10).attr("x2",10.5).attr("y2",477).attr("stroke","#d4d4d4");

const defs = svg.append("defs");
defs.append("marker").attr("id","arr").attr("viewBox","0 0 10 10").attr("refX",9).attr("refY",5)
  .attr("markerWidth",7).attr("markerHeight",7).attr("orient","auto")
  .append("path").attr("d","M0,1 L10,5 L0,9 Z").attr("fill","#000");

panels.forEach((P,pi)=>{
  const x = d3.scaleLinear().domain([0,1]).range(panelsPx[pi]);
  const g = svg.append("g");
  g.selectAll(".st").data(P.streaks).join("line")
    .attr("x1",d=>x(d[0])).attr("x2",d=>x(d[0])).attr("y1",d=>y(d[1])).attr("y2",d=>y(d[2]))
    .attr("stroke",d=>colors[d[3]]).attr("stroke-width",1.3).attr("stroke-dasharray","1.2,3.2").attr("opacity",0.85);
  [3,2,0,1].forEach(ci=>{
    const data = P.pts[ci];
    if(shapes[ci]==="square"){
      g.selectAll(null).data(data).join("rect")
        .attr("x",d=>x(d[0])-sqSide(d[2])/2).attr("y",d=>y(d[1])-sqSide(d[2])/2)
        .attr("width",d=>sqSide(d[2])).attr("height",d=>sqSide(d[2]))
        .attr("fill",colors[ci]);
    } else {
      g.selectAll(null).data(data).join("circle")
        .attr("cx",d=>x(d[0])).attr("cy",d=>y(d[1])).attr("r",d=>cR(d[2]))
        .attr("fill",colors[ci]);
    }
  });
  g.selectAll(".fit").data(P.fits).join("line")
    .attr("x1",x(0)).attr("x2",x(1)).attr("y1",d=>y(d[0])).attr("y2",d=>y(d[1]))
    .attr("stroke",(d,i)=>fitColors[i]).attr("stroke-width",1.8);
  const ox = x(overallFraction[pi]);
  g.append("line").attr("x1",ox).attr("x2",ox).attr("y1",yTop).attr("y2",yBot)
    .attr("stroke","#000").attr("stroke-width",2).attr("stroke-dasharray","2,2.4");
  const s = P.overallSide;
  const tb = pi===0 ? 131 : 128;
  g.append("text").attr("x",ox + s*5).attr("y",tb).attr("text-anchor",s<0?"end":"start")
    .attr("font-size",18).attr("fill","#000").attr("stroke","#000").attr("stroke-width",0.5).text(overallLabel);
  g.append("line").attr("x1",ox + s*15).attr("y1",tb+5).attr("x2",ox + s*3).attr("y2",tb+17)
    .attr("stroke","#000").attr("stroke-width",1.3).attr("marker-end","url(#arr)");
  g.append("rect").attr("x",panelsPx[pi][0]).attr("y",yTop).attr("width",panelsPx[pi][1]-panelsPx[pi][0]).attr("height",yBot-yTop)
    .attr("fill","none").attr("stroke","#000").attr("stroke-width",2);
  const ya = g.append("g").attr("transform",`translate(${panelsPx[pi][0]},0)`)
    .call(d3.axisLeft(y).tickValues(yTicks).tickSize(5).tickPadding(4).tickFormat((d,i)=>yTickLabels[i]));
  const xa = g.append("g").attr("transform",`translate(0,${yBot})`)
    .call(d3.axisBottom(x).tickValues(xTicks).tickSize(5).tickPadding(4).tickFormat((d,i)=>xTickLabels[i]));
  [ya,xa].forEach(a=>{
    a.select(".domain").attr("stroke","#000").attr("stroke-width",2);
    a.selectAll(".tick line").attr("stroke","#000").attr("stroke-width",1.5);
    a.selectAll("text").attr("font-size",18).attr("font-weight","bold").attr("fill","#111")
      .attr("font-family",'"Liberation Sans",Arial,sans-serif');
  });
  if(P.legend){
    const right = panelsPx[pi][1]-13;
    const lg = g.append("g").attr("font-size",12.2).attr("font-weight","bold");
    const t0 = lg.append("text").attr("x",right).attr("y",66).attr("text-anchor","end").attr("fill",colors[0]).text(categories[0]);
    const t1 = lg.append("text").attr("x",right).attr("y",79).attr("text-anchor","end").attr("fill",colors[1]).text(categories[1]);
    const s0 = right - t0.node().getComputedTextLength();
    const s1 = right - t1.node().getComputedTextLength();
    lg.append("text").attr("x",s0).attr("y",92).attr("fill",colors[2]).text(categories[2]);
    lg.append("text").attr("x",s1).attr("y",105).attr("fill",colors[3]).text(categories[3]);
  }
  if(P.sizeLegend){
    const lx = panelsPx[pi][0]+272, lw = 50, by = 77;
    const sl = g.append("g");
    sl.append("path").attr("d",`M${lx},${by} L${lx+lw},${by} L${lx+lw},${by-11} Z`).attr("fill","#000");
    [1,2].forEach(k=>{
      const xx = lx + lw*k/3;
      sl.append("line").attr("x1",xx).attr("x2",xx).attr("y1",by).attr("y2",by-11*k/3-1).attr("stroke","#bbb").attr("stroke-width",0.8);
    });
    sizeLegendLabels.forEach((t,k)=>{
      sl.append("text").attr("x",lx + lw*k/3 - (k===0?0:2)).attr("y",by-3-3.3*k).attr("text-anchor","middle")
        .attr("font-size",8).attr("font-weight","bold").text(t);
    });
    sl.append("text").attr("x",lx+lw/2).attr("y",87).attr("text-anchor","middle").attr("font-size",9).attr("font-weight","bold").text(sizeLegendTitle);
  }
});

svg.append("text").attr("transform","translate(48,238) rotate(-90)").attr("text-anchor","middle")
  .attr("font-size",20.5).attr("font-weight","bold").attr("fill","#111").text(yTitle);
svg.append("text").attr("x",697).attr("y",469).attr("text-anchor","middle")
  .attr("font-size",24.5).attr("font-weight","bold").attr("fill","#111").text(xTitle);
</script>
</body></html>
